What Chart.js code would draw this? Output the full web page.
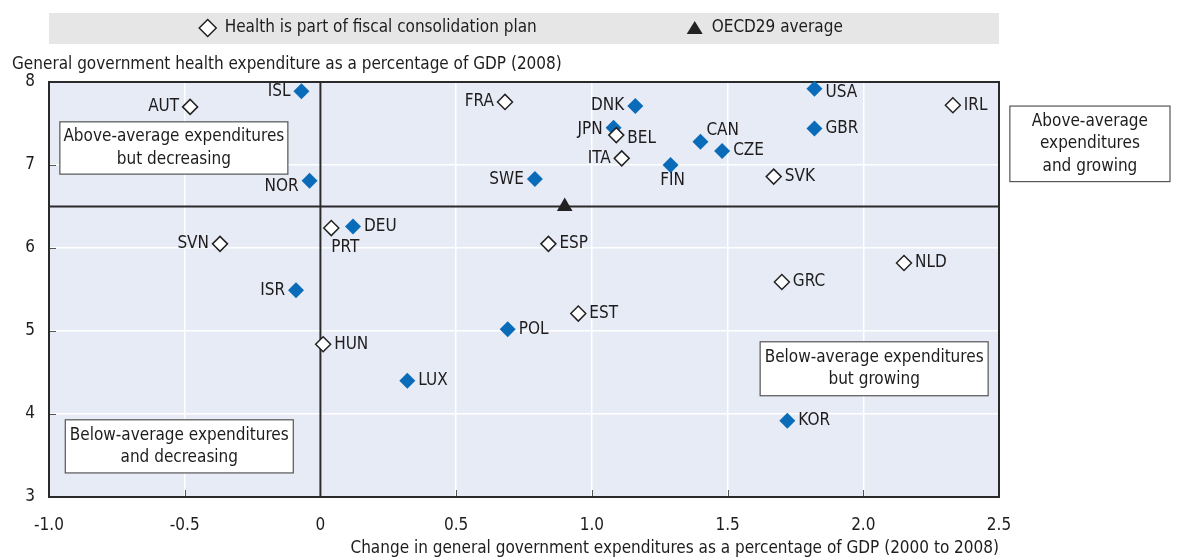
<!DOCTYPE html>
<html>
<head>
<meta charset="utf-8">
<script src="https://cdn.jsdelivr.net/npm/chart.js@4.4.1/dist/chart.umd.min.js"></script>
<style>
  html, body { margin: 0; padding: 0; background: #fff; }
  #wrap { width: 1178px; height: 558px; }
</style>
</head>
<body>
<div id="wrap"><canvas id="c" width="1178" height="558"></canvas></div>
<script>
// ── datos ──
var countries = ['ISL', 'NOR', 'ISR', 'AUT', 'SVN', 'PRT', 'DEU', 'FRA', 'DNK', 'JPN', 'BEL', 'ITA', 'CAN', 'CZE',
                 'FIN', 'SWE', 'SVK', 'ESP', 'GRC', 'EST', 'USA', 'GBR', 'IRL', 'NLD', 'HUN', 'LUX', 'POL', 'KOR'];
var changeGdp = [-0.07, -0.04, -0.09, -0.48, -0.37, 0.04, 0.12, 0.68, 1.16, 1.08, 1.09, 1.11, 1.40, 1.48,
                 1.29, 0.79, 1.67, 0.84, 1.70, 0.95, 1.82, 1.82, 2.33, 2.15, 0.01, 0.32, 0.69, 1.72];
var healthGdp = [7.89, 6.81, 5.49, 7.70, 6.05, 6.24, 6.26, 7.76, 7.71, 7.45, 7.36, 7.08, 7.28, 7.17,
                 7.00, 6.83, 6.86, 6.05, 5.59, 5.21, 7.92, 7.44, 7.72, 5.82, 4.84, 4.40, 5.02, 3.92];
// true = la salud forma parte del plan de consolidación fiscal (rombo hueco)
var inPlan = [false, false, false, true, true, true, false, true, false, false, true, true, false, false,
              false, false, true, true, true, true, false, false, true, true, true, false, false, false];
var avgLabel = 'OECD29 average';
var avgX = [0.90];
var avgY = [6.50];

var xTickLabels = ['-1.0', '-0.5', '0', '0.5', '1.0', '1.5', '2.0', '2.5'];
var yTickLabels = ['3', '4', '5', '6', '7', '8'];

var yTitle = 'General government health expenditure as a percentage of GDP (2008)';
var xTitle = 'Change in general government expenditures as a percentage of GDP (2000 to 2008)';
var planLabel = 'Health is part of fiscal consolidation plan';

// ── estilo / colocación de etiquetas (l = izquierda, r = derecha, b = debajo, bl = debajo alineada, ar = arriba-dcha) ──
var labelPos = ['l', 'l', 'l', 'l', 'l', 'bl', 'r', 'l', 'l', 'l', 'r', 'l', 'ar', 'r',
                'b', 'l', 'r', 'r', 'r', 'r', 'r', 'r', 'r', 'r', 'r', 'r', 'r', 'r'];
var labelDy = {NOR: 6, USA: 4, JPN: 2, BEL: 3};

var quadBoxes = [
  { lines: ['Above-average expenditures', 'but decreasing'], x0: -0.96, x1: -0.12, y0: 7.52, y1: 6.89 },
  { lines: ['Above-average', 'expenditures', 'and growing'], x0: 2.54, x1: 3.13, y0: 7.71, y1: 6.80 },
  { lines: ['Below-average expenditures', 'but growing'], x0: 1.62, x1: 2.46, y0: 4.87, y1: 4.22 },
  { lines: ['Below-average expenditures', 'and decreasing'], x0: -0.94, x1: -0.10, y0: 3.93, y1: 3.29 }
];

var FONT = "'DejaVu Sans Condensed','DejaVu Sans',sans-serif";
var FS = 17;
var TXT = '#1e1c1d';
var BLUE = '#0a6cb9';
var PLOT_BG = '#e7ebf6';
function F(sz) { return sz + 'px ' + FONT; }

var bluePts = [], openPts = [], blueIdx = [], openIdx = [];
countries.forEach(function (c, i) {
  if (inPlan[i]) { openPts.push({ x: changeGdp[i], y: healthGdp[i] }); openIdx.push(i); }
  else { bluePts.push({ x: changeGdp[i], y: healthGdp[i] }); blueIdx.push(i); }
});

function diamond(ctx, x, y, r, fill, stroke) {
  ctx.beginPath();
  ctx.moveTo(x - r, y); ctx.lineTo(x, y - r); ctx.lineTo(x + r, y); ctx.lineTo(x, y + r); ctx.closePath();
  ctx.fillStyle = fill; ctx.fill();
  if (stroke) { ctx.strokeStyle = stroke; ctx.lineWidth = 1.5; ctx.stroke(); }
}

var decor = {
  id: 'decor',
  beforeDraw: function (chart) {
    var a = chart.chartArea, ctx = chart.ctx;
    ctx.save();
    ctx.fillStyle = '#fff'; ctx.fillRect(0, 0, chart.width, chart.height);
    ctx.fillStyle = PLOT_BG; ctx.fillRect(a.left, a.top, a.right - a.left, a.bottom - a.top);
    ctx.restore();
  },
  beforeDatasetsDraw: function (chart) {
    var a = chart.chartArea, ctx = chart.ctx, xs = chart.scales.x, ys = chart.scales.y;
    ctx.save();
    // marcas de eje hacia dentro
    ctx.strokeStyle = '#555'; ctx.lineWidth = 1;
    xs.ticks.forEach(function (t) {
      var px = Math.round(xs.getPixelForValue(t.value)) + 0.5;
      ctx.beginPath(); ctx.moveTo(px, a.bottom); ctx.lineTo(px, a.bottom - 7); ctx.stroke();
    });
    ys.ticks.forEach(function (t) {
      var py = Math.round(ys.getPixelForValue(t.value)) + 0.5;
      ctx.beginPath(); ctx.moveTo(a.left, py); ctx.lineTo(a.left + 7, py); ctx.stroke();
    });
    // líneas de cuadrante
    ctx.strokeStyle = '#2a2a2a'; ctx.lineWidth = 2;
    var px0 = xs.getPixelForValue(0), pyA = ys.getPixelForValue(avgY[0]);
    ctx.beginPath(); ctx.moveTo(px0, a.top); ctx.lineTo(px0, a.bottom); ctx.stroke();
    ctx.beginPath(); ctx.moveTo(a.left, pyA); ctx.lineTo(a.right, pyA); ctx.stroke();
    ctx.strokeRect(a.left, a.top, a.right - a.left, a.bottom - a.top);
    // cajas de cuadrante
    quadBoxes.forEach(function (b) {
      var x0 = xs.getPixelForValue(b.x0), x1 = xs.getPixelForValue(b.x1);
      var y0 = ys.getPixelForValue(b.y0), y1 = ys.getPixelForValue(b.y1);
      ctx.fillStyle = '#fff'; ctx.fillRect(x0, y0, x1 - x0, y1 - y0);
      ctx.strokeStyle = '#555'; ctx.lineWidth = 1.2; ctx.strokeRect(x0, y0, x1 - x0, y1 - y0);
      ctx.fillStyle = TXT; ctx.font = F(FS); ctx.textAlign = 'center'; ctx.textBaseline = 'middle';
      var lh = 22.5, cy = (y0 + y1) / 2 - (b.lines.length - 1) * lh / 2;
      b.lines.forEach(function (l, k) { ctx.fillText(l, (x0 + x1) / 2, cy + k * lh); });
    });
    ctx.restore();
  },
  afterDatasetsDraw: function (chart) {
    var ctx = chart.ctx;
    ctx.save();
    ctx.font = F(FS); ctx.fillStyle = TXT; ctx.textBaseline = 'middle';
    [[0, openIdx], [1, blueIdx]].forEach(function (pair) {
      var meta = chart.getDatasetMeta(pair[0]);
      pair[1].forEach(function (ci, j) {
        var el = meta.data[j], name = countries[ci], pos = labelPos[ci], dy = labelDy[name] || 0;
        if (pos === 'l') { ctx.textAlign = 'right'; ctx.fillText(name, el.x - 11, el.y + dy); }
        else if (pos === 'r') { ctx.textAlign = 'left'; ctx.fillText(name, el.x + 11, el.y + dy); }
        else if (pos === 'b') { ctx.textAlign = 'center'; ctx.fillText(name, el.x + 2, el.y + 16); }
        else if (pos === 'bl') { ctx.textAlign = 'left'; ctx.fillText(name, el.x, el.y + 19); }
        else if (pos === 'ar') { ctx.textAlign = 'left'; ctx.fillText(name, el.x + 6, el.y - 11); }
      });
    });
    ctx.restore();
  },
  afterDraw: function (chart) {
    var a = chart.chartArea, ctx = chart.ctx;
    ctx.save();
    // leyenda
    ctx.fillStyle = '#e6e6e6'; ctx.fillRect(a.left, 13, a.right - a.left, 31);
    ctx.font = F(FS); ctx.textBaseline = 'middle'; ctx.textAlign = 'left';
    var w1 = ctx.measureText(planLabel).width, w2 = ctx.measureText(avgLabel).width;
    var total = 25.5 + w1 + 158 + 17 + w2;
    var sx = (a.left + a.right) / 2 - 3 - total / 2, ly = 28;
    diamond(ctx, sx + 8.5, ly, 8.5, '#fff', '#222');
    ctx.fillStyle = TXT; ctx.fillText(planLabel, sx + 25.5, ly);
    var tx = sx + 25.5 + w1 + 158;
    ctx.beginPath(); ctx.moveTo(tx, ly - 7); ctx.lineTo(tx + 8, ly + 6); ctx.lineTo(tx - 8, ly + 6); ctx.closePath();
    ctx.fillStyle = '#222'; ctx.fill();
    ctx.fillStyle = TXT; ctx.fillText(avgLabel, tx + 17, ly);
    // títulos de ejes
    ctx.fillText(yTitle, 12, 65);
    ctx.textAlign = 'right';
    ctx.fillText(xTitle, a.right, 549);
    ctx.restore();
  }
};

new Chart(document.getElementById('c'), {
  type: 'scatter',
  data: {
    datasets: [
      { label: planLabel, data: openPts, order: 0, pointStyle: 'rectRot', pointRadius: 7.5, pointHoverRadius: 7.5,
        backgroundColor: '#fff', borderColor: '#222', borderWidth: 1.5, clip: false },
      { label: 'Other', data: bluePts, order: 1, pointStyle: 'rectRot', pointRadius: 8, pointHoverRadius: 8,
        backgroundColor: BLUE, borderColor: BLUE, borderWidth: 0, clip: false },
      { label: avgLabel, data: avgX.map(function (x, i) { return { x: x, y: avgY[i] }; }), order: 2,
        pointStyle: 'triangle', pointRadius: 9, pointHoverRadius: 9, backgroundColor: '#222', borderColor: '#222',
        borderWidth: 0, clip: false }
    ]
  },
  options: {
    responsive: false,
    animation: false,
    devicePixelRatio: 1,
    layout: { padding: { top: 82, right: 179, bottom: 0, left: 0 } },
    plugins: { legend: { display: false }, tooltip: { enabled: false } },
    scales: {
      x: {
        type: 'linear', min: -1, max: 2.5,
        afterFit: function (s) { s.height = 61; },
        grid: { color: '#fff', lineWidth: 1.5, drawTicks: false },
        border: { display: false },
        ticks: { stepSize: 0.5, padding: 18, color: TXT, font: { family: FONT, size: FS }, maxRotation: 0,
          callback: function (v, i) { return xTickLabels[i]; } }
      },
      y: {
        type: 'linear', min: 3, max: 8,
        afterFit: function (s) { s.width = 49; },
        grid: { color: '#fff', lineWidth: 1.5, drawTicks: false },
        border: { display: false },
        ticks: { stepSize: 1, padding: 14, color: TXT, font: { family: FONT, size: FS },
          callback: function (v, i) { return yTickLabels[i]; } }
      }
    }
  },
  plugins: [decor]
});
</script>
</body>
</html>
